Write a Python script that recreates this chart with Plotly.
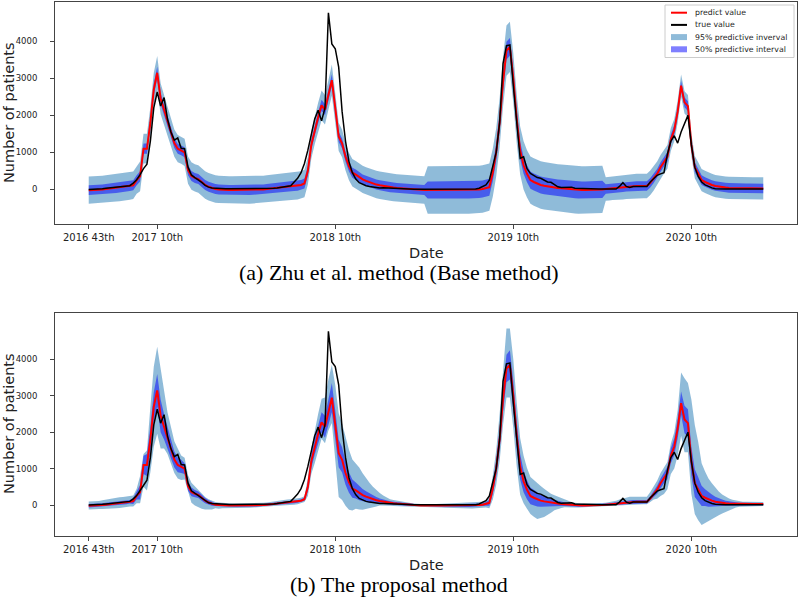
import plotly.graph_objects as go

# ---------------- data (week index 0 = 2016 week 43) ----------------
weeks = list(range(198))
tick_weeks = [0, 20, 72, 124, 176]
tick_text = ["2016 43th", "2017 10th", "2018 10th", "2019 10th", "2020 10th"]
y_ticks = [0, 1000, 2000, 3000, 4000]

true_value = [
    0, 0, 5, 10, 20, 30, 40, 50, 55, 60,
    70, 80, 100, 170, 260, 400, 560, 680, 1300, 2200,
    2630, 2250, 2480, 1900, 1550, 1330, 1390, 1110, 1100, 600,
    390, 320, 260, 190, 110, 60, 40, 30, 25, 20,
    20, 15, 15, 10, 10, 10, 10, 10, 10, 10,
    10, 15, 20, 25, 30, 40, 50, 60, 70, 100,
    200, 300, 450, 700, 1060, 1500, 1900, 2140, 1850, 2200,
    4770, 3930, 3800, 3300, 2100, 1300, 750, 450, 280, 180,
    130, 100, 80, 60, 50, 40, 45, 40, 30, 20,
    10, 10, 10, 10, 5, 5, 5, 5, 5, 5,
    5, 5, 5, 5, 5, 5, 5, 5, 5, 5,
    5, 5, 10, 10, 30, 70, 120, 250, 600, 1000,
    1800, 3400, 3880, 3900, 2800, 1700, 840, 880, 560, 430,
    380, 320, 300, 250, 200, 190, 120, 70, 50, 60,
    70, 60, 30, 25, 20, 15, 10, 10, 10, 10,
    10, 10, 10, 10, 10, 80, 180, 80, 50, 80,
    80, 80, 80, 80, 200, 300, 380, 420, 450, 950,
    1300, 1450, 1250, 1550, 1800, 2000, 1200, 600, 350, 200,
    120, 70, 40, 20, 10, 10, 10, 10, 10, 10,
    10, 10, 10, 10, 10, 10, 10, 10,
]

predict_value = [
    -20, -20, -15, -10, 0, 10, 20, 30, 40, 50,
    60, 70, 90, 110, 250, 350, 1100, 1100, 1800, 2700,
    3150, 2450, 2150, 1850, 1550, 1250, 1100, 1060, 1000, 520,
    360, 310, 280, 200, 120, 70, 30, 10, 0, -10,
    -15, -15, -15, -15, -15, -15, -15, -15, -10, -10,
    -5, 0, 10, 20, 30, 40, 50, 60, 70, 80,
    90, 100, 120, 160, 500, 1200, 1600, 1950, 2270, 2150,
    2550, 2950, 2200, 1420, 1240, 880, 620, 450, 400, 330,
    270, 230, 190, 160, 130, 110, 90, 70, 60, 50,
    40, 30, 20, 10, 5, 0, -5, -10, -15, -15,
    -15, -15, -15, -15, -15, -15, -15, -15, -15, -15,
    -15, -15, -15, -10, 0, 10, 30, 60, 450, 1000,
    1800, 2900, 3750, 3850, 3000, 1900, 1050, 650, 420, 250,
    200, 150, 120, 100, 80, 60, 50, 40, 30, 20,
    10, 0, -10, -15, -15, -15, -15, -10, -10, -5,
    0, 10, 20, 30, 40, 50, 60, 70, 90, 90,
    90, 90, 90, 90, 180, 300, 420, 600, 750, 880,
    1350, 1600, 2100, 2800, 2350, 2250, 1200, 600, 430, 250,
    200, 150, 120, 90, 70, 60, 50, 40, 35, 30,
    30, 30, 30, 30, 25, 25, 25, 25,
]

# (a) base method: half widths of the predictive intervals
a_half95 = [
    370, 370, 370, 370, 370, 370, 370, 370, 370, 370,
    370, 370, 370, 370, 370, 400, 400, 400, 420, 450,
    450, 420, 400, 380, 370, 370, 370, 370, 370, 370,
    370, 370, 370, 370, 370, 370, 370, 370, 370, 370,
    370, 370, 370, 370, 370, 370, 370, 370, 370, 370,
    370, 370, 370, 370, 370, 370, 370, 370, 370, 370,
    370, 370, 370, 370, 370, 370, 380, 390, 400, 400,
    400, 420, 400, 380, 370, 370, 370, 370, 370, 370,
    370, 370, 370, 370, 370, 370, 370, 370, 370, 370,
    370, 370, 370, 370, 370, 370, 370, 370, 370, 640,
    640, 640, 640, 640, 640, 640, 640, 640, 640, 640,
    640, 640, 640, 640, 640, 640, 640, 640, 650, 650,
    660, 670, 680, 680, 670, 660, 650, 650, 640, 640,
    640, 640, 640, 640, 640, 640, 640, 640, 640, 640,
    640, 640, 640, 640, 640, 640, 640, 640, 640, 640,
    640, 320, 320, 320, 320, 320, 330, 330, 330, 330,
    330, 330, 330, 330, 330, 330, 330, 330, 320, 320,
    310, 300, 300, 300, 300, 300, 300, 300, 300, 300,
    300, 300, 300, 300, 300, 300, 300, 300, 300, 300,
    300, 300, 300, 300, 300, 300, 300, 300,
]
a_half50 = [
    135, 135, 135, 135, 135, 135, 135, 135, 135, 135,
    135, 135, 135, 135, 135, 140, 140, 140, 150, 160,
    160, 150, 140, 140, 135, 135, 135, 135, 135, 135,
    135, 135, 135, 135, 135, 135, 135, 135, 135, 135,
    135, 135, 135, 135, 135, 135, 135, 135, 135, 135,
    135, 135, 135, 135, 135, 135, 135, 135, 135, 135,
    135, 135, 135, 135, 135, 135, 140, 140, 150, 150,
    150, 160, 150, 140, 135, 135, 135, 135, 135, 135,
    135, 135, 135, 135, 135, 135, 135, 135, 135, 135,
    135, 135, 135, 135, 135, 135, 135, 135, 135, 230,
    230, 230, 230, 230, 230, 230, 230, 230, 230, 230,
    230, 230, 230, 230, 230, 230, 230, 230, 230, 230,
    235, 240, 240, 240, 240, 235, 230, 230, 230, 230,
    230, 230, 230, 230, 230, 230, 230, 230, 230, 230,
    230, 230, 230, 230, 230, 230, 230, 230, 230, 230,
    230, 130, 130, 130, 130, 130, 130, 130, 130, 130,
    130, 130, 130, 130, 130, 130, 130, 130, 130, 130,
    130, 130, 130, 130, 130, 130, 130, 130, 130, 130,
    130, 130, 130, 130, 130, 130, 130, 130, 130, 130,
    130, 130, 130, 130, 130, 130, 130, 130,
]

# (b) proposal method: distances of the 95% bounds above / below the prediction
b_up95 = [
    120, 120, 120, 120, 130, 140, 150, 160, 160, 160,
    160, 160, 150, 150, 200, 450, 300, 400, 900, 1100,
    1200, 1300, 1000, 700, 600, 500, 450, 300, 300, 300,
    250, 200, 150, 120, 100, 90, 80, 70, 70, 70,
    60, 60, 60, 60, 60, 60, 60, 60, 60, 60,
    60, 60, 60, 60, 60, 60, 70, 70, 80, 80,
    80, 80, 80, 80, 250, 350, 450, 550, 650, 800,
    900, 900, 1100, 1100, 1000, 1000, 900, 800, 750, 700,
    600, 500, 420, 340, 280, 220, 170, 130, 100, 90,
    80, 75, 70, 60, 50, 45, 40, 35, 30, 30,
    35, 40, 50, 55, 60, 65, 70, 75, 80, 80,
    80, 80, 80, 80, 80, 80, 100, 200, 350, 500,
    700, 900, 1100, 1000, 1000, 900, 790, 700, 600, 520,
    480, 460, 400, 350, 300, 250, 220, 190, 160, 130,
    120, 80, 70, 60, 55, 55, 55, 55, 55, 55,
    55, 55, 60, 70, 80, 100, 120, 140, 140, 140,
    140, 140, 140, 140, 180, 220, 250, 280, 280, 300,
    330, 400, 500, 840, 1130, 1100, 1700, 1600, 1300, 900,
    720, 580, 480, 380, 300, 230, 180, 140, 110, 90,
    70, 60, 60, 60, 60, 60, 60, 60,
]
b_down95 = [
    100, 100, 100, 100, 110, 120, 130, 130, 130, 130,
    130, 130, 130, 150, 200, 300, 600, 700, 900, 1100,
    1190, 900, 600, 450, 400, 370, 370, 370, 300, 150,
    300, 320, 340, 300, 240, 200, 150, 100, 100, 80,
    60, 60, 60, 60, 60, 60, 60, 60, 60, 60,
    60, 60, 60, 60, 60, 60, 70, 70, 80, 80,
    80, 80, 80, 80, 250, 350, 450, 500, 450, 450,
    500, 700, 900, 1200, 1100, 900, 750, 600, 500, 450,
    400, 340, 280, 220, 170, 120, 100, 90, 80, 80,
    80, 75, 70, 60, 50, 45, 40, 35, 30, 30,
    35, 40, 50, 55, 60, 65, 70, 75, 80, 80,
    80, 80, 80, 80, 80, 80, 100, 150, 300, 450,
    600, 700, 800, 900, 900, 850, 770, 600, 520, 500,
    520, 535, 480, 430, 350, 270, 195, 150, 110, 80,
    65, 60, 55, 50, 50, 50, 50, 50, 50, 50,
    50, 50, 50, 55, 60, 60, 65, 70, 70, 70,
    70, 70, 70, 70, 100, 150, 250, 350, 450, 450,
    500, 600, 750, 900, 900, 800, 900, 850, 850, 800,
    700, 600, 500, 420, 350, 290, 230, 180, 140, 100,
    75, 60, 60, 60, 55, 55, 55, 55,
]
b_half50 = [
    50, 50, 50, 50, 50, 50, 50, 50, 50, 50,
    50, 50, 50, 80, 100, 200, 250, 300, 350, 400,
    450, 450, 350, 300, 250, 220, 200, 180, 150, 130,
    120, 100, 90, 80, 70, 60, 50, 40, 35, 30,
    30, 30, 30, 30, 30, 30, 30, 30, 30, 30,
    30, 30, 30, 30, 30, 30, 35, 35, 40, 40,
    40, 40, 40, 40, 120, 180, 220, 250, 280, 300,
    350, 400, 400, 380, 350, 320, 280, 250, 220, 200,
    170, 150, 130, 110, 90, 70, 60, 50, 45, 40,
    40, 35, 35, 30, 30, 25, 20, 20, 15, 15,
    20, 20, 25, 25, 30, 30, 35, 35, 40, 40,
    40, 40, 40, 40, 40, 40, 50, 80, 150, 220,
    280, 330, 380, 400, 400, 380, 350, 300, 260, 230,
    210, 190, 170, 150, 130, 110, 90, 75, 60, 50,
    40, 30, 30, 30, 30, 30, 30, 30, 30, 30,
    30, 30, 30, 35, 40, 40, 45, 50, 50, 50,
    50, 50, 50, 50, 60, 80, 110, 130, 150, 170,
    200, 230, 270, 320, 380, 380, 400, 380, 330, 280,
    230, 200, 170, 140, 110, 90, 70, 60, 50, 40,
    30, 30, 30, 30, 30, 30, 30, 30,
]

for arr in (true_value, predict_value, a_half95, a_half50, b_up95, b_down95, b_half50):
    assert len(arr) == len(weeks), len(arr)

# ---------------- derived bounds ----------------
a_lo95 = [p - h for p, h in zip(predict_value, a_half95)]
a_hi95 = [p + h for p, h in zip(predict_value, a_half95)]
a_lo50 = [p - h for p, h in zip(predict_value, a_half50)]
a_hi50 = [p + h for p, h in zip(predict_value, a_half50)]
b_lo95 = [p - h for p, h in zip(predict_value, b_down95)]
b_hi95 = [p + h for p, h in zip(predict_value, b_up95)]
b_lo50 = [p - h for p, h in zip(predict_value, b_half50)]
b_hi50 = [p + h for p, h in zip(predict_value, b_half50)]

C95 = "rgba(31,119,180,0.5)"
C50 = "rgba(0,0,255,0.5)"
RED = "#ff0000"
BLACK = "#000000"

fig = go.Figure()


def band(lo, hi, color, name, xa, ya):
    return go.Scatter(
        x=weeks + weeks[::-1], y=hi + lo[::-1], fill="toself", fillcolor=color,
        line=dict(width=0), mode="lines", name=name, showlegend=False,
        xaxis=xa, yaxis=ya, hoverinfo="skip",
    )


for xa, ya, lo95, hi95, lo50, hi50 in (
    ("x", "y", a_lo95, a_hi95, a_lo50, a_hi50),
    ("x2", "y2", b_lo95, b_hi95, b_lo50, b_hi50),
):
    fig.add_trace(band(lo95, hi95, C95, "95% predictive inverval", xa, ya))
    fig.add_trace(band(lo50, hi50, C50, "50% predictive interval", xa, ya))
    fig.add_trace(go.Scatter(x=weeks, y=predict_value, mode="lines", name="predict value",
                             line=dict(color=RED, width=2), xaxis=xa, yaxis=ya, showlegend=False))
    fig.add_trace(go.Scatter(x=weeks, y=true_value, mode="lines", name="true value",
                             line=dict(color=BLACK, width=1.5), xaxis=xa, yaxis=ya, showlegend=False))

W, H = 800.0, 599.0


def px(x):
    return x / W


def py(y):
    return 1 - y / H


axis_common = dict(showgrid=False, zeroline=False, showline=True, mirror=True,
                   linecolor="#444444", linewidth=1, ticks="outside", ticklen=4,
                   tickcolor="#444444")
xfont = dict(family="DejaVu Sans", size=10, color="#222222")
yfont = dict(family="DejaVu Sans", size=8.5, color="#222222")

fig.update_layout(
    width=800, height=599, margin=dict(l=0, r=0, t=0, b=0),
    plot_bgcolor="white", paper_bgcolor="white", showlegend=False,
    xaxis=dict(domain=[px(55), px(797)], anchor="y", range=[-9.85, 206.85],
               tickmode="array", tickvals=tick_weeks, ticktext=tick_text,
               tickfont=xfont, **axis_common),
    yaxis=dict(domain=[py(224), py(1.5)], anchor="x", range=[-935, 5075],
               tickmode="array", tickvals=y_ticks, tickfont=yfont,
               ticklabelstandoff=11, **axis_common),
    xaxis2=dict(domain=[px(55), px(797)], anchor="y2", range=[-9.85, 206.85],
                tickmode="array", tickvals=tick_weeks, ticktext=tick_text,
                tickfont=xfont, **axis_common),
    yaxis2=dict(domain=[py(536), py(313.3)], anchor="x2", range=[-851, 5266],
                tickmode="array", tickvals=y_ticks, tickfont=yfont,
                ticklabelstandoff=11, **axis_common),
)

ann = []
label_font = dict(family="DejaVu Sans", size=14.5, color="#222222")
cap_font = dict(family="Liberation Serif", size=22, color="#000000")
for yc in (113, 424):
    ann.append(dict(text="Number of patients", x=px(9), y=py(yc), xref="paper", yref="paper",
                    textangle=-90, showarrow=False, font=label_font,
                    xanchor="center", yanchor="middle"))
for yc in (253, 565):
    ann.append(dict(text="Date", x=px(427), y=py(yc), xref="paper", yref="paper",
                    showarrow=False, font=label_font, xanchor="center", yanchor="middle"))
ann.append(dict(text="(a) Zhu et al. method (Base method)", x=px(399), y=py(272),
                xref="paper", yref="paper", showarrow=False, font=cap_font,
                xanchor="center", yanchor="middle"))
ann.append(dict(text="(b) The proposal method", x=px(399), y=py(584),
                xref="paper", yref="paper", showarrow=False, font=cap_font,
                xanchor="center", yanchor="middle"))

# legend (top panel, upper right)
shapes = [dict(type="rect", xref="paper", yref="paper", x0=px(665), x1=px(794),
               y0=py(57.5), y1=py(5), line=dict(color="#cccccc", width=1),
               fillcolor="rgba(255,255,255,0.85)", layer="above")]
leg_items = [("predict value", "line", RED), ("true value", "line", BLACK),
             ("95% predictive inverval", "patch", C95), ("50% predictive interval", "patch", C50)]
leg_font = dict(family="DejaVu Sans", size=7.8, color="#222222")
for i, (txt, kind, col) in enumerate(leg_items):
    yc = 12.7 + i * 12.2
    if kind == "line":
        shapes.append(dict(type="line", xref="paper", yref="paper", x0=px(671), x1=px(687),
                           y0=py(yc), y1=py(yc), line=dict(color=col, width=2), layer="above"))
    else:
        shapes.append(dict(type="rect", xref="paper", yref="paper", x0=px(671), x1=px(687),
                           y0=py(yc + 3), y1=py(yc - 3), line=dict(width=0),
                           fillcolor=col, layer="above"))
    ann.append(dict(text=txt, x=px(693), y=py(yc), xref="paper", yref="paper",
                    showarrow=False, font=leg_font, xanchor="left", yanchor="middle"))

fig.update_layout(annotations=ann, shapes=shapes)
fig.write_html("out.html", config={"displayModeBar": False},
               post_script="document.body.style.margin='0';document.body.style.overflow='hidden';")
